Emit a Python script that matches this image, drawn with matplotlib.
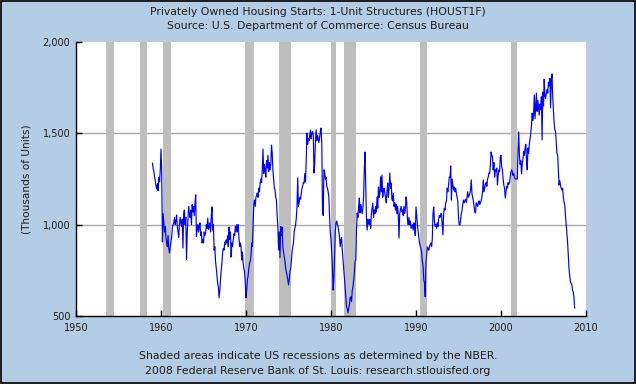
import numpy as np
import matplotlib
matplotlib.use('Agg')
import matplotlib.pyplot as plt
from matplotlib.patches import Rectangle
from matplotlib.ticker import FuncFormatter

# monthly starts, thousands of units (SAAR), Jan 1959 onwards
starts_1959_1969 = [
  1336, 1305, 1290, 1260, 1240, 1210, 1195, 1225, 1185, 1260, 1235, 1300,
  1413, 1290, 905, 1060, 1010, 960, 990, 930, 900, 880, 940, 870,
  845, 880, 900, 930, 980, 1000, 1010, 1040, 1000, 1020, 1053, 990,
  960, 930, 1000, 1040, 1010, 990, 1030, 872, 1060, 1080, 1000, 1040,
  810, 950, 1020, 1100, 1060, 1040, 1080, 1000, 1110, 1070, 1100, 1050,
  1120, 1163, 935, 980, 1000, 960, 990, 1010, 940, 960, 900, 920,
  900, 960, 940, 955, 1000, 980, 1036, 975, 990, 1010, 960, 1050,
  1097, 970, 1000, 861, 880, 800, 763, 720, 680, 659, 600, 640,
  700, 750, 790, 845, 870, 861, 905, 890, 916, 900, 940, 880,
  987, 920, 960, 823, 900, 880, 920, 950, 940, 990, 960, 1000,
  960, 1000, 930, 880, 900, 878, 807, 850, 790, 760, 741, 680,
]
starts_1970s = [
  600, 640, 700, 720, 760, 790, 800, 830, 900, 880, 1000, 1108,
  1135, 1100, 1150, 1160, 1173, 1150, 1200, 1180, 1228, 1250, 1230, 1300,
  1414, 1280, 1330, 1300, 1260, 1350, 1310, 1380, 1290, 1340, 1300, 1330,
  1436, 1390, 1300, 1250, 1200, 1190, 1150, 1135, 1050, 987, 861, 960,
  820, 990, 940, 987, 880, 850, 823, 800, 760, 740, 720, 700,
  670, 700, 740, 760, 800, 850, 878, 900, 960, 980, 1000, 1036,
  1097, 1256, 1100, 1120, 1150, 1140, 1170, 1200, 1210, 1230, 1228, 1280,
  1234, 1350, 1502, 1440, 1470, 1460, 1490, 1518, 1470, 1500, 1510, 1490,
  1283, 1336, 1450, 1520, 1460, 1490, 1470, 1450, 1480, 1510, 1529, 1440,
  1080, 1050, 1300, 1290, 1250, 1260, 1210, 1200, 1180, 1150, 1042, 955,
]
starts_1980s = [
  920, 850, 770, 642, 700, 830, 960, 1009, 1020, 1000, 990, 960,
  933, 880, 916, 930, 860, 807, 760, 697, 640, 600, 550, 540,
  517, 540, 560, 600, 605, 580, 640, 660, 700, 735, 800, 807,
  970, 1064, 1040, 1100, 1146, 1064, 1110, 1080, 1060, 1090, 1150, 1300,
  1398, 1206, 1042, 970, 1030, 1010, 1000, 1030, 980, 1060, 1090, 1118,
  1040, 1080, 1060, 1100, 1070, 1152, 1090, 1206, 1150, 1170, 1262, 1180,
  1272, 1150, 1190, 1200, 1170, 1150, 1120, 1180, 1228, 1150, 1200, 1283,
  1200, 1228, 1140, 1130, 1170, 1100, 1120, 1080, 1110, 1060, 1100, 1050,
  927, 1060, 1080, 1100, 1070, 1080, 1050, 1100, 1060, 1090, 1152, 1120,
  1026, 1000, 1040, 1000, 1020, 980, 990, 1000, 970, 1010, 990, 940,
]
starts_1990s = [
  1097, 1050, 1009, 960, 930, 900, 880, 870, 845, 800, 770, 700,
  680, 605, 790, 830, 878, 870, 860, 880, 890, 900, 880, 920,
  1060, 1097, 1020, 990, 1000, 980, 1010, 990, 1030, 1050, 1040, 1060,
  1060, 1000, 944, 1060, 1090, 1080, 1120, 1130, 1200, 1180, 1217, 1260,
  1260, 1321, 1135, 1250, 1220, 1190, 1206, 1180, 1200, 1170, 1150, 1130,
  1040, 1000, 998, 1026, 1060, 1080, 1110, 1135, 1120, 1130, 1140, 1120,
  1150, 1180, 1150, 1160, 1170, 1190, 1245, 1170, 1150, 1130, 1100, 1070,
  1064, 1120, 1110, 1100, 1120, 1130, 1110, 1120, 1130, 1152, 1180, 1245,
  1180, 1200, 1220, 1230, 1210, 1250, 1260, 1283, 1280, 1330, 1398, 1380,
  1370, 1300, 1340, 1260, 1300, 1290, 1310, 1217, 1270, 1300, 1290, 1370,
]
starts_2000s = [
  1380, 1316, 1300, 1250, 1217, 1200, 1146, 1180, 1210, 1200, 1230, 1220,
  1230, 1260, 1289, 1300, 1290, 1270, 1280, 1260, 1250, 1250, 1250, 1250,
  1400, 1508, 1380, 1330, 1350, 1278, 1330, 1360, 1400, 1380, 1420, 1440,
  1350, 1300, 1420, 1390, 1440, 1470, 1500, 1540, 1611, 1570, 1600, 1710,
  1580, 1650, 1720, 1620, 1680, 1640, 1600, 1660, 1630, 1700, 1464, 1726,
  1650, 1797, 1700, 1690, 1720, 1740, 1720, 1780, 1760, 1800, 1640, 1790,
  1825, 1700, 1630, 1560, 1520, 1508, 1450, 1390, 1381, 1300, 1217, 1240,
  1217, 1200, 1190, 1200, 1150, 1124, 1108, 1050, 1004, 960, 905, 830,
  760, 720, 686, 680, 670, 640, 631, 600, 544,
]

# NBER recessions (peak year, month, trough year, month)
recessions = [
  (1953, 7, 1954, 5), (1957, 8, 1958, 4), (1960, 4, 1961, 2),
  (1969, 12, 1970, 11), (1973, 11, 1975, 3), (1980, 1, 1980, 7),
  (1981, 7, 1982, 11), (1990, 7, 1991, 3), (2001, 3, 2001, 11),
]

x_ticks = [1950, 1960, 1970, 1980, 1990, 2000, 2010]
y_ticks = [500, 1000, 1500, 2000]

BG = '#B4CCE4'
TXT = '#1E1E1E'

starts = np.array(starts_1959_1969 + starts_1970s + starts_1980s + starts_1990s + starts_2000s)
t = 1959 + np.arange(len(starts)) / 12.0

fig = plt.figure(figsize=(6.36, 3.84), dpi=100, facecolor=BG)
ax = fig.add_axes([76 / 636, 1 - 316 / 384, 510 / 636, 274 / 384])
ax.set_facecolor('white')

for y0, m0, y1, m1 in recessions:
  ax.axvspan(y0 + (m0 - 1) / 12, y1 + m1 / 12, color='#BEBEBE', lw=0, zorder=1)

for y in [1000, 1500]:
  ax.axhline(y, color='#A8A8A8', lw=1, zorder=0.5)

ax.plot(t, starts, color='#0000FF', lw=0.85, zorder=3)

ax.set_xlim(1950, 2010)
ax.set_ylim(500, 2000)
ax.set_xticks(x_ticks)
ax.set_yticks(y_ticks)
ax.yaxis.set_major_formatter(FuncFormatter(lambda v, p: '{:,.0f}'.format(v)))
ax.tick_params(direction='in', length=4, width=1, labelsize=7, colors='black',
               labelcolor=TXT, pad=4)
ax.tick_params(axis='x', pad=5)

for s in ['top', 'right']:
  ax.spines[s].set_visible(False)
for s in ['left', 'bottom']:
  ax.spines[s].set_color('black')
  ax.spines[s].set_linewidth(1)

ax.set_ylabel('(Thousands of Units)', fontsize=7.6, labelpad=8, color=TXT)

lines = [
  (12, 'Privately Owned Housing Starts: 1-Unit Structures (HOUST1F)'),
  (26, 'Source: U.S. Department of Commerce: Census Bureau'),
  (356, 'Shaded areas indicate US recessions as determined by the NBER.'),
  (371, '2008 Federal Reserve Bank of St. Louis: research.stlouisfed.org'),
]
for ypix, s in lines:
  fig.text(0.5, 1 - ypix / 384, s, ha='center', va='center', fontsize=7.8, color=TXT)

fig.patches.append(Rectangle((0.001, 0.002), 0.997, 0.996, transform=fig.transFigure,
                             fill=False, edgecolor='black', lw=1.2))

fig.savefig('out.png', dpi=100, facecolor=BG)
